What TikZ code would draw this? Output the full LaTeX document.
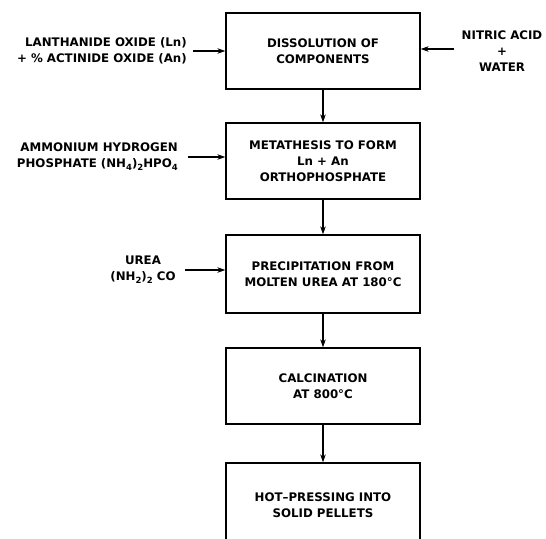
\documentclass[tikz,border=0pt]{standalone}
\usepackage{fontspec}
\setmainfont{DejaVu Sans}
\usetikzlibrary{arrows.meta}
\newcommand{\lowsub}[1]{\raisebox{-.45ex}{\fontsize{8.5}{10}\selectfont #1}}

\begin{document}
\begin{tikzpicture}[x=1pt,y=-1pt,
	stage/.style = {draw, line width=1.3pt, minimum width=194pt, minimum height=76pt,
		inner sep=0pt, align=center, font=\fontsize{11.8}{16}\selectfont\bfseries},
	feed/.style = {inner sep=0pt, font=\fontsize{11.8}{16}\selectfont\bfseries},
	flow/.style = {line width=1.6pt, -{Stealth[length=8pt,width=5.5pt]}}]
	\useasboundingbox (0,0) rectangle (546,538);
	\clip (0,0) rectangle (546,538);
	% process steps
	\node[stage] (dissolve) at (323,51) {DISSOLUTION OF\\COMPONENTS};
	\node[stage] (meta) at (323,161) {METATHESIS TO FORM\\Ln + An\\ORTHOPHOSPHATE};
	\node[stage, minimum height=78pt] (precip) at (323,274) {PRECIPITATION FROM\\MOLTEN UREA AT 180°C};
	\node[stage] (calc) at (323,386) {CALCINATION\\AT 800°C};
	\node[stage, minimum height=84pt] (press) at (323,505) {HOT--PRESSING INTO\\SOLID PELLETS};
	% feeds
	\node[feed, align=right, anchor=east] (oxide) at (187,51) {LANTHANIDE OXIDE (Ln)\\+ \% ACTINIDE OXIDE (An)};
	\node[feed, align=center] (nitric) at (502,51) {NITRIC ACID\\+\\WATER};
	\node[feed, align=right, anchor=east] (phosphate) at (178,157) {AMMONIUM HYDROGEN\\PHOSPHATE (NH\lowsub{4})\lowsub{2}HPO\lowsub{4}};
	\node[feed, align=center] (urea) at (143,270) {UREA\\(NH\lowsub{2})\lowsub{2} CO};
	% arrows
	\draw[flow] ([xshift=6pt]oxide.east) -- (oxide.east -| dissolve.west);
	\draw[flow] ([xshift=-8pt]nitric.west |- 0,49) -- (dissolve.east |- 0,49);
	\draw[flow] ([xshift=10pt]phosphate.east) -- (phosphate.east -| meta.west);
	\draw[flow] ([xshift=9pt]urea.east) -- (urea.east -| precip.west);
	\draw[flow] (dissolve) -- (meta);
	\draw[flow] (meta) -- (precip);
	\draw[flow] (precip) -- (calc);
	\draw[flow] (calc) -- (press);
\end{tikzpicture}
\end{document}
